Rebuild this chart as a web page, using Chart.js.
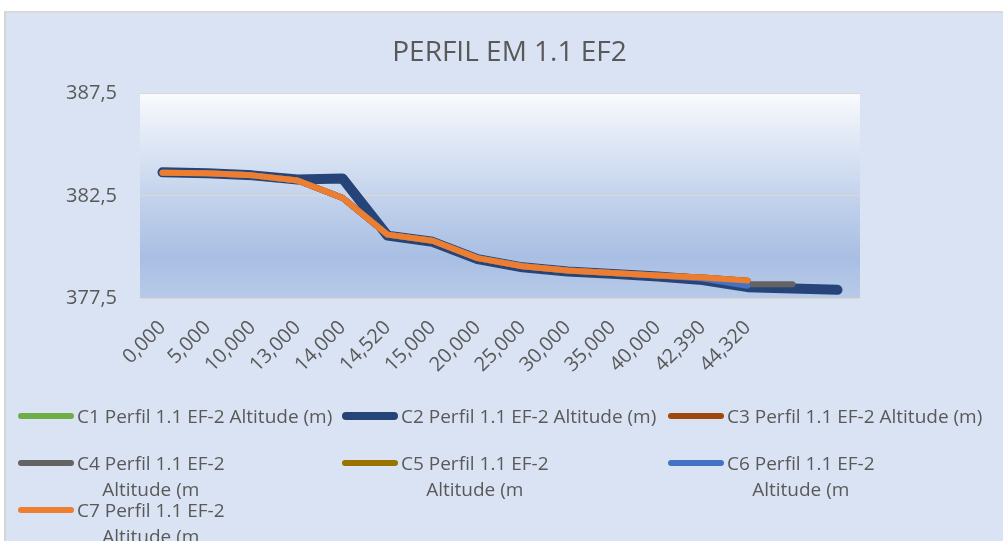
<!DOCTYPE html>
<html lang="pt">
<head>
<meta charset="UTF-8">
<title>Perfil EM 1.1 EF2</title>
<script src="https://cdn.jsdelivr.net/npm/chart.js"></script>
<style>
    html, body { margin: 0; padding: 0; background: #fff; overflow: hidden; font-family: 'Open Sans', sans-serif; }
    #frame { position: absolute; left: 4px; top: 11px; width: 999px; height: 530px; background: #dae3f3; border-left: 2px solid #d4d4d4; border-top: 2px solid #d9d9d9; box-sizing: border-box; }
    #chartBox { position: absolute; left: 0; top: 0; width: 1003px; height: 541px; }
    .leg { position: absolute; display: flex; align-items: flex-start; color: #595959; font-size: 19px; }
    .leg .swatch { width: 56px; border-radius: 4px; margin-right: 3px; }
    .leg .txt { text-align: center; line-height: 26px; white-space: nowrap; }
</style>
</head>
<body>
<div id="frame"></div>
<div id="chartBox"><canvas id="perfil" width="1003" height="541"></canvas></div>
<div id="legend"></div>
<script>
// distancias (eixo X) - as duas ultimas posicoes nao tem rotulo no original
const categories = ['0,000', '5,000', '10,000', '13,000', '14,000', '14,520', '15,000', '20,000',
    '25,000', '30,000', '35,000', '40,000', '42,390', '44,320', '', ''];

const seriesNames = [
    'C1 Perfil 1.1 EF-2 Altitude (m)', 'C2 Perfil 1.1 EF-2 Altitude (m)', 'C3 Perfil 1.1 EF-2 Altitude (m)',
    'C4 Perfil 1.1 EF-2 Altitude (m)', 'C5 Perfil 1.1 EF-2 Altitude (m)', 'C6 Perfil 1.1 EF-2 Altitude (m)',
    'C7 Perfil 1.1 EF-2 Altitude (m)'
];
// como a legenda aparece (cortada) no grafico original
const legendLines = [
    ['C1 Perfil 1.1 EF-2 Altitude (m)'], ['C2 Perfil 1.1 EF-2 Altitude (m)'], ['C3 Perfil 1.1 EF-2 Altitude (m)'],
    ['C4 Perfil 1.1 EF-2', 'Altitude (m'], ['C5 Perfil 1.1 EF-2', 'Altitude (m'], ['C6 Perfil 1.1 EF-2', 'Altitude (m'],
    ['C7 Perfil 1.1 EF-2', 'Altitude (m']
];
const seriesColors = ['#70ad47', '#264478', '#9e480e', '#636363', '#997300', '#4472c4', '#ed7d31'];

// altitudes (m)
const c1 = [383.65, 383.6, 383.5, 383.3, 383.35, 380.55, 380.25, 379.4, 379.0, 378.8, 378.68, 378.55, 378.38, 378.03, 377.97, 377.9];
const c2 = [383.65, 383.6, 383.5, 383.3, 383.35, 380.55, 380.25, 379.4, 379.0, 378.8, 378.68, 378.55, 378.38, 378.03, 377.97, 377.9];
const c3 = [383.63, 383.6, 383.5, 383.25, 382.4, 380.6, 380.3, 379.45, 379.05, 378.85, 378.72, 378.6, 378.5, 378.35, null, null];
const c4 = [null, null, null, null, null, null, null, null, null, null, null, null, null, 378.17, 378.17, null];
const c5 = [383.63, 383.6, 383.5, 383.25, 382.4, 380.6, 380.3, 379.45, 379.05, 378.85, 378.72, 378.6, 378.5, 378.35, null, null];
const c6 = [383.63, 383.6, 383.5, 383.25, 382.4, 380.6, 380.3, 379.45, 379.05, 378.85, 378.72, 378.6, 378.45, 378.1, null, null];
const c7 = [383.63, 383.6, 383.5, 383.25, 382.4, 380.6, 380.3, 379.45, 379.05, 378.85, 378.72, 378.6, 378.5, 378.35, null, null];
const seriesData = [c1, c2, c3, c4, c5, c6, c7];

const yMin = 377.5, yMax = 387.5, yStep = 5;

const textColor = '#595959';
const lineWidths = [8, 10, 6, 6, 6, 6, 6];
const legendPos = [[18, 416], [342, 416], [668, 416], [18, 463], [342, 463], [668, 463], [18, 510]];

const plotBackground = {
    id: 'plotBackground',
    beforeDraw(chart) {
        const { ctx, chartArea: a } = chart;
        const g = ctx.createLinearGradient(0, a.top, 0, a.bottom);
        g.addColorStop(0, '#f8fafd');
        g.addColorStop(0.45, '#c9d7ee');
        g.addColorStop(0.8, '#a8bee3');
        g.addColorStop(1, '#b8cae8');
        ctx.save();
        ctx.fillStyle = g;
        ctx.fillRect(a.left, a.top, a.right - a.left, a.bottom - a.top);
        ctx.restore();
    }
};

const datasets = seriesData.map((d, i) => ({
    label: seriesNames[i],
    data: d,
    borderColor: seriesColors[i],
    backgroundColor: seriesColors[i],
    borderWidth: lineWidths[i],
    borderCapStyle: 'round',
    borderJoinStyle: 'round',
    pointRadius: 0,
    tension: 0,
    fill: false,
    order: seriesData.length - i
}));

new Chart(document.getElementById('perfil'), {
    type: 'line',
    data: { labels: categories, datasets },
    plugins: [plotBackground],
    options: {
        responsive: false,
        animation: false,
        layout: { padding: { left: 16, right: 0, top: 0, bottom: 0 } },
        plugins: {
            legend: { display: false },
            tooltip: { enabled: false },
            title: {
                display: true,
                text: 'PERFIL EM 1.1 EF2',
                color: textColor,
                font: { family: 'Open Sans', size: 28, weight: 'normal' },
                padding: { top: 36, bottom: 24 }
            }
        },
        scales: {
            x: {
                offset: true,
                grid: { display: false },
                border: { display: false },
                afterFit: s => { s.height = 243; },
                ticks: {
                    autoSkip: false, maxRotation: 45, minRotation: 45, padding: 10,
                    color: textColor, font: { family: 'Open Sans', size: 20 }
                }
            },
            y: {
                min: yMin, max: yMax,
                afterFit: s => { s.width = 124; },
                grid: { color: '#dcd8ce', drawTicks: false },
                border: { display: false },
                ticks: {
                    stepSize: yStep, padding: 23, color: textColor,
                    font: { family: 'Open Sans', size: 20 },
                    callback: v => v.toFixed(1).replace('.', ',')
                }
            },
            // eixo vazio a direita, so para reservar o espaco
            yRight: {
                position: 'right',
                min: yMin, max: yMax,
                afterFit: s => { s.width = 143; },
                grid: { display: false },
                border: { display: false },
                ticks: { display: false }
            }
        }
    }
});

// legenda em HTML (layout de 3 colunas como no original)
const legend = document.getElementById('legend');
seriesNames.forEach((name, i) => {
    const item = document.createElement('div');
    item.className = 'leg';
    item.style.left = legendPos[i][0] + 'px';
    item.style.top = (legendPos[i][1] - 13) + 'px';
    const sw = document.createElement('span');
    sw.className = 'swatch';
    const h = i === 1 ? 8 : 6;
    sw.style.height = h + 'px';
    sw.style.marginTop = (13 - h / 2) + 'px';
    sw.style.background = seriesColors[i];
    const txt = document.createElement('div');
    txt.className = 'txt';
    txt.innerHTML = legendLines[i].join('<br>');
    item.appendChild(sw);
    item.appendChild(txt);
    legend.appendChild(item);
});
</script>
</body>
</html>
